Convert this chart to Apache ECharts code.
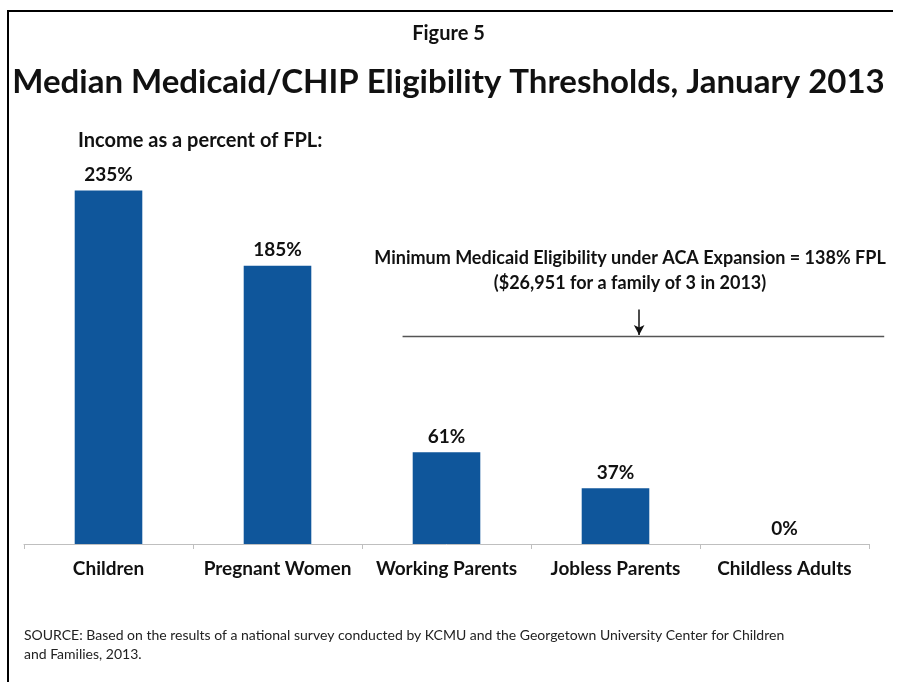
<!DOCTYPE html>
<html>
<head>
<meta charset="utf-8">
<script src="https://cdn.jsdelivr.net/npm/echarts@6/dist/echarts.min.js"></script>
<style>
  html, body { margin: 0; padding: 0; background: #fff; }
  #chart { width: 897px; height: 682px; }
</style>
</head>
<body>
<div id="chart"></div>
<script>
// data
const categories = ['Children', 'Pregnant Women', 'Working Parents', 'Jobless Parents', 'Childless Adults'];
const thresholds = [235, 185, 61, 37, 0];
const acaMinimum = 138;
// reference line span, in category units (0 = left end of axis, 5 = right end)
const acaLineSpan = [2.24, 5.09];
const arrowX = 3.64;
const arrowFrom = 156;

const font = 'Lato, "Open Sans", sans-serif';

// the ACA line runs a little past the end of the category axis,
// so it sits on an overlay grid that is wider than the bar grid
const barGridWidth = 845;
const lineGridWidth = 862;

const chart = echarts.init(document.getElementById('chart'));

const option = {
  backgroundColor: '#fff',
  animation: false,
  textStyle: { fontFamily: font },
  title: [
    {
      text: 'Figure 5',
      left: 'center',
      top: 19,
      textStyle: { fontSize: 20, fontWeight: 'bold', color: '#111', fontFamily: font },
    },
    {
      text: 'Median Medicaid/CHIP Eligibility Thresholds, January 2013',
      left: 'center',
      top: 61,
      textStyle: { fontSize: 33, fontWeight: 'bold', color: '#111', fontFamily: font },
    },
    {
      text: 'Income as a percent of FPL:',
      left: 73,
      top: 126,
      textStyle: { fontSize: 20, fontWeight: 'bold', color: '#111', fontFamily: font },
    },
  ],
  grid: [
    { left: 24, width: barGridWidth, top: 168, height: 376 },
    { left: 24, width: lineGridWidth, top: 168, height: 376 },
  ],
  xAxis: [
    {
      type: 'category',
      gridIndex: 0,
      data: categories,
      axisLine: { lineStyle: { color: '#bfbfbf', width: 1 } },
      axisTick: { show: true, length: 5, lineStyle: { color: '#bfbfbf' } },
      axisLabel: {
        margin: 15,
        fontSize: 19,
        fontWeight: 'bold',
        color: '#111',
        fontFamily: font,
        interval: 0,
      },
    },
    {
      type: 'value',
      gridIndex: 1,
      min: 0,
      max: 5 * lineGridWidth / barGridWidth,
      show: false,
    },
  ],
  yAxis: [
    { type: 'value', gridIndex: 0, min: 0, max: 250, show: false },
    { type: 'value', gridIndex: 1, min: 0, max: 250, show: false },
  ],
  series: [
    {
      type: 'bar',
      data: thresholds,
      barWidth: '40%',
      itemStyle: { color: '#0f569b' },
      label: {
        show: true,
        position: 'top',
        distance: 6,
        formatter: '{c}%',
        fontSize: 19,
        fontWeight: 'bold',
        color: '#111',
        fontFamily: font,
      },
    },
    {
      type: 'line',
      xAxisIndex: 1,
      yAxisIndex: 1,
      data: [[acaLineSpan[0], acaMinimum], [acaLineSpan[1], acaMinimum]],
      symbol: 'none',
      lineStyle: { color: '#555', width: 1.5 },
      markLine: {
        silent: true,
        symbol: ['none', 'arrow'],
        symbolSize: [8, 10],
        label: { show: false },
        lineStyle: { color: '#111', width: 1.5, type: 'solid' },
        data: [
          [{ coord: [arrowX, arrowFrom] }, { coord: [arrowX, acaMinimum + 1] }],
        ],
      },
    },
  ],
  graphic: [
    {
      type: 'rect',
      shape: { x: 7, y: 10, width: 886, height: 2 },
      style: { fill: '#000' },
    },
    {
      type: 'rect',
      shape: { x: 7, y: 10, width: 2, height: 672 },
      style: { fill: '#000' },
    },
    {
      type: 'text',
      x: 630,
      y: 271,
      style: {
        text: 'Minimum Medicaid Eligibility under ACA Expansion = 138% FPL\n($26,951 for a family of 3 in 2013)',
        align: 'center',
        verticalAlign: 'middle',
        fontSize: 18,
        fontWeight: 'bold',
        lineHeight: 25,
        fill: '#111',
        fontFamily: font,
      },
    },
    {
      type: 'text',
      left: 24,
      top: 626,
      style: {
        text: 'SOURCE: Based on the results of a national survey conducted by KCMU and the Georgetown University Center for Children\nand Families, 2013.',
        fontSize: 14,
        lineHeight: 19,
        fill: '#222',
        fontFamily: font,
      },
    },
  ],
};

chart.setOption(option);
</script>
</body>
</html>
